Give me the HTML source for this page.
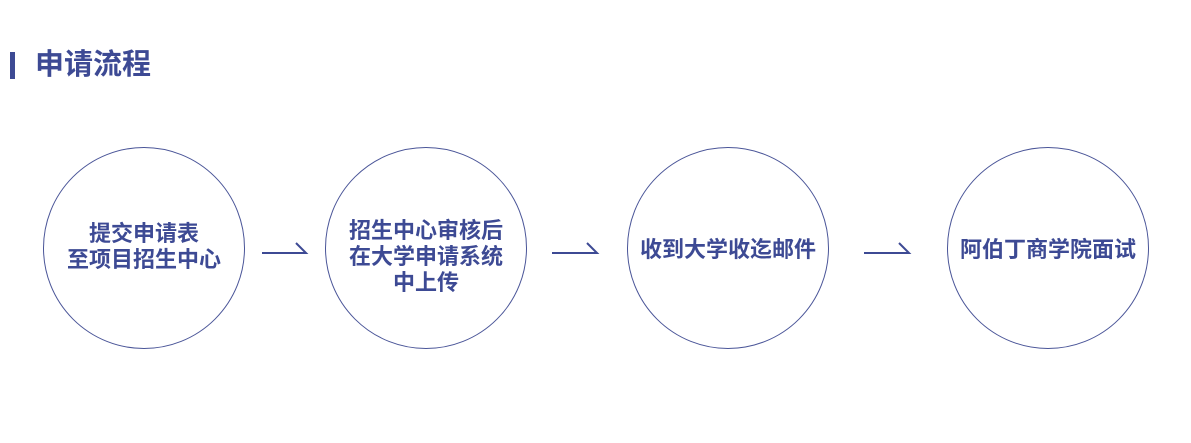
<!DOCTYPE html>
<html><head><meta charset="utf-8"><style>
body{margin:0;width:1191px;height:443px;background:#fff;position:relative;overflow:hidden;font-family:"Liberation Sans","Noto Sans CJK SC",sans-serif;}
.bar{position:absolute;left:10px;top:52px;width:5px;height:27px;background:#3d4a94;}
.title{position:absolute;left:35px;top:46px;font-size:29px;font-weight:bold;color:#3d4a94;line-height:38px;}
.c{position:absolute;top:147px;width:200px;height:200px;border:1.3px solid #4a5598;border-radius:50%;display:flex;align-items:center;justify-content:center;text-align:center;font-size:22px;font-weight:bold;color:#3d4a94;line-height:26px;}
</style></head><body>
<div class="bar"></div>
<div class="title">申请流程</div>
<div class="c" style="left:43px;"><div style="margin-top:-3px">提交申请表<br>至项目招生中心</div></div>
<div class="c" style="left:325px;"><div style="margin-top:18px">招生中心审核后<br>在大学申请系统<br>中上传</div></div>
<div class="c" style="left:627px;"><div style="margin-top:4px">收到大学收迄邮件</div></div>
<div class="c" style="left:947px;"><div style="margin-top:4px">阿伯丁商学院面试</div></div>
<svg width="1191" height="443" style="position:absolute;left:0;top:0" fill="none" stroke="#3d4a94" stroke-width="2">
<polyline points="262,253 306,253 296,243"/>
<polyline points="552,253 597,253 587,243"/>
<polyline points="864,253 909,253 899,243"/>
</svg>
</body></html>
